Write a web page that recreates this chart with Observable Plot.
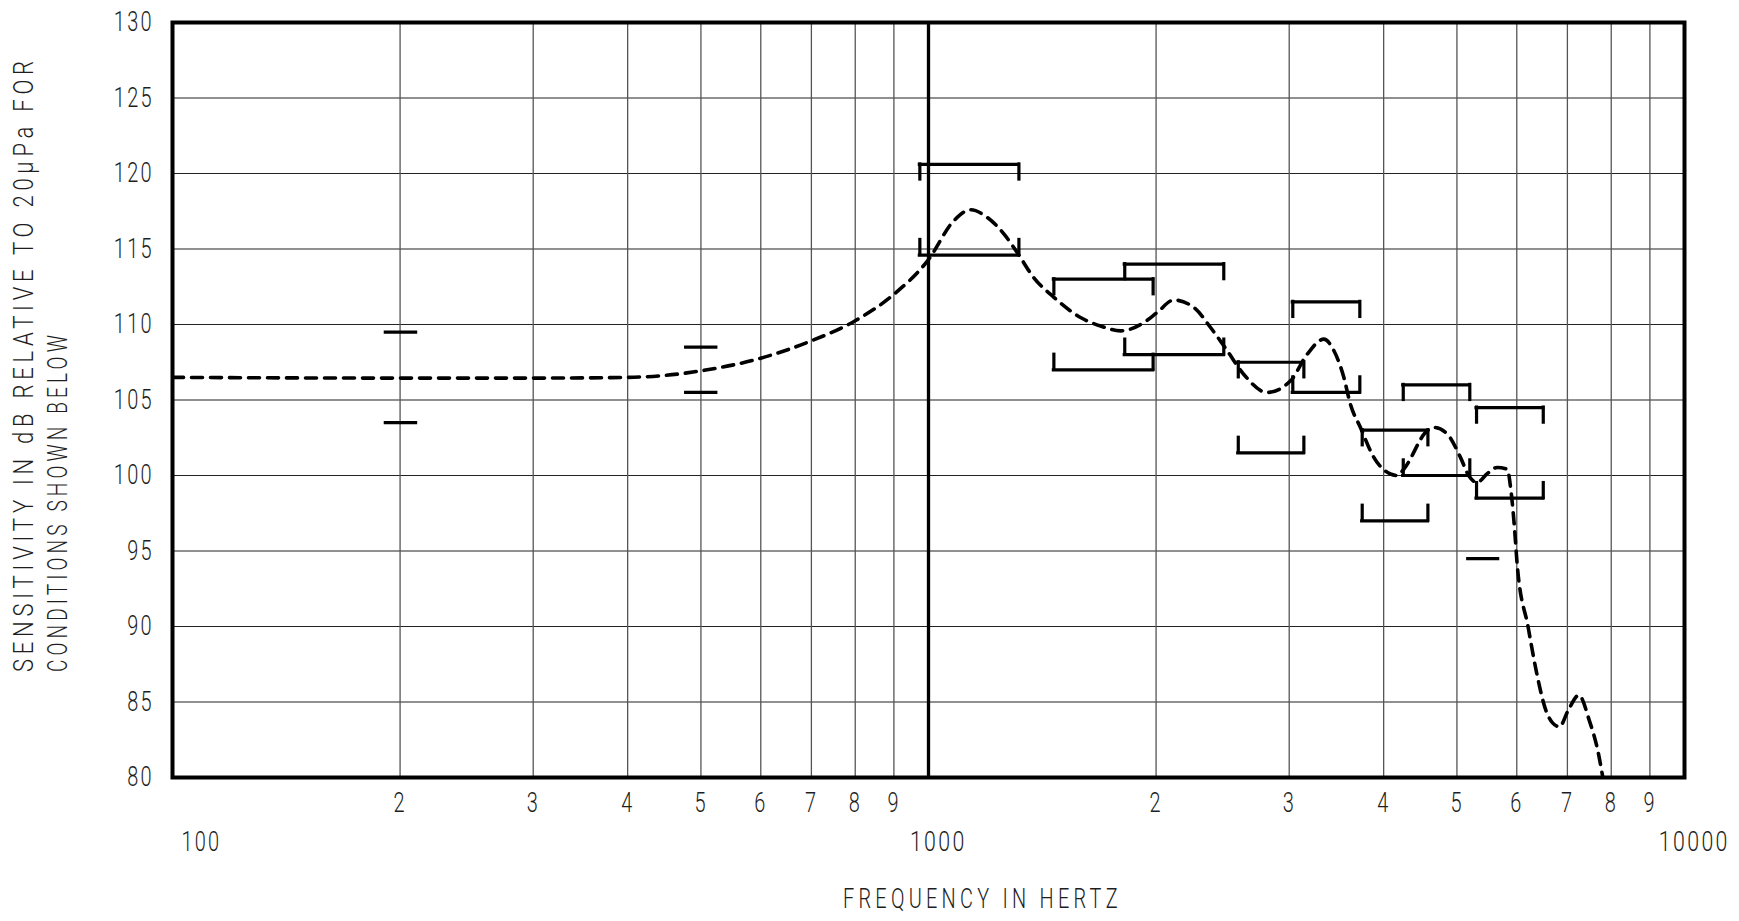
<!DOCTYPE html>
<html><head><meta charset="utf-8">
<script src="https://cdn.jsdelivr.net/npm/d3@7"></script>
<script src="https://cdn.jsdelivr.net/npm/@observablehq/plot@0.6"></script>
<style>body{margin:0;background:#fff;} #chart{width:1739px;height:921px;}</style>
</head><body><div id="chart"></div>
<script>
// ---- data ----
const curveFreq = [100,200,300,400,442,500,600,700,800,900,1000,1080,1137,1196,1258,1310,1378,1465,1589,1689,1795,1927,2007,2111,2244,2361,2484,2612,2805,3012,3170,3333,3438,3543,3614,3727,3882,4084,4170,4250,4568,4662,4857,5054,5184,5318,5478,5651,5830,5888,5948,6010,6209,6370,6561,6696,6834,7010,7248,7486,7680,7798];
const curveDb = [106.5,106.45,106.45,106.5,106.6,106.93,107.77,108.92,110.25,112.0,114.3,116.87,117.6,117.09,116.0,114.77,113.1,111.8,110.46,109.9,109.58,110.13,110.8,111.62,111.13,109.8,108.26,106.7,105.5,106.27,108.04,109.03,108.26,106.5,104.73,103.18,101.2,100.1,100.0,100.4,102.96,103.18,102.74,101.2,99.98,99.54,100.1,100.53,100.42,99.2,97.0,94.0,90.0,87.0,84.4,83.6,83.36,84.4,85.45,83.75,81.77,80.0];

const bandLo    = [974, 1465, 1818, 2569, 3033, 3747, 4246, 5308];
const bandHi    = [1317, 1982, 2458, 3137, 3720, 4577, 5200, 6504];
const bandUpper = [120.6, 113, 114, 107.5, 111.5, 103, 106, 104.5];
const bandLower = [114.6, 107, 108, 101.5, 105.5, 97, 100, 98.5];

const limitFreq  = [200, 500];
const limitLo    = [191.5, 478];
const limitHi    = [210, 524];
const limitUpper = [109.5, 108.5];
const limitLower = [103.5, 105.5];

const extraLo = [5175];
const extraHi = [5669];
const extraDb = [94.5];

const yTicks = [80,85,90,95,100,105,110,115,120,125,130];
const minorTicks = [200,300,400,500,600,700,800,900,2000,3000,4000,5000,6000,7000,8000,9000];
const decadeTicks = [100,1000,10000];
const majorGrid = [1000];

const yTitle = ["SENSITIVITY IN dB RELATIVE TO 20\u03bcPa FOR", "CONDITIONS SHOWN BELOW"];
const xTitle = "FREQUENCY IN HERTZ";

// ---- derived tables ----
const curve = curveFreq.map((f, i) => ({f, db: curveDb[i]}));
const bands = bandLo.map((lo, i) => ({lo, hi: bandHi[i], up: bandUpper[i], low: bandLower[i]}));
const bandEnds = bands.flatMap(b => [{f: b.lo, up: b.up, low: b.low}, {f: b.hi, up: b.up, low: b.low}]);
const limits = limitFreq.map((f, i) => ({lo: limitLo[i], hi: limitHi[i], up: limitUpper[i], low: limitLower[i]}));
const extras = extraLo.map((lo, i) => ({lo, hi: extraHi[i], db: extraDb[i]}));

const TICK = 1; // bracket leg length in dB
const FONT = "Roboto,'DejaVu Sans Condensed',sans-serif";
const INK = "#000";
const TEXT = "#1e1e1e";
const bracket = {stroke: INK, strokeWidth: 3.2, strokeLinecap: "square"};

const plot = Plot.plot({
  width: 1739, height: 921,
  marginLeft: 172, marginRight: 55, marginTop: 22, marginBottom: 144,
  style: {fontFamily: FONT, fontWeight: 300, background: "#fff", color: TEXT, overflow: "visible", letterSpacing: "3px"},
  x: {type: "log", domain: [100, 10000], axis: null},
  y: {domain: [80, 130], axis: null},
  marks: [
    Plot.ruleY(yTicks.slice(1, -1), {stroke: "#222", strokeWidth: 1.2}),
    Plot.ruleX(minorTicks, {stroke: "#555", strokeWidth: 1.3}),
    Plot.ruleX(majorGrid, {stroke: INK, strokeWidth: 3.3}),
    Plot.line(curve, {x: "f", y: "db", curve: "monotone-x", stroke: INK, strokeWidth: 3.6, strokeDasharray: "11,8", clip: true}),
    Plot.ruleY(bands, {x1: "lo", x2: "hi", y: "up", ...bracket}),
    Plot.ruleY(bands, {x1: "lo", x2: "hi", y: "low", ...bracket}),
    Plot.ruleX(bandEnds, {x: "f", y1: "up", y2: d => d.up - TICK, ...bracket}),
    Plot.ruleX(bandEnds, {x: "f", y1: "low", y2: d => d.low + TICK, ...bracket}),
    Plot.ruleY(limits, {x1: "lo", x2: "hi", y: "up", ...bracket}),
    Plot.ruleY(limits, {x1: "lo", x2: "hi", y: "low", ...bracket}),
    Plot.ruleY(extras, {x1: "lo", x2: "hi", y: "db", ...bracket}),
    Plot.frame({stroke: INK, strokeWidth: 4}),
    Plot.axisY({ticks: yTicks, tickSize: 0, tickPadding: 15, fontSize: 27, label: null}),
    Plot.text(minorTicks, {x: d => d, frameAnchor: "bottom", dy: 26, lineAnchor: "middle", text: d => String(d)[0], fontSize: 27}),
    Plot.text(decadeTicks.slice(0, 1), {x: d => d, frameAnchor: "bottom", dy: 65, dx: 7, lineAnchor: "middle", textAnchor: "start", text: d => String(d), fontSize: 27}),
    Plot.text(decadeTicks.slice(1), {x: d => d, frameAnchor: "bottom", dy: 65, dx: 8, lineAnchor: "middle", textAnchor: "middle", text: d => String(d), fontSize: 27})
  ]
});

document.getElementById("chart").appendChild(plot);
const svg = d3.select(plot);
const svgBox = plot.getBoundingClientRect();
const NS = "http://www.w3.org/2000/svg";

// condense the tick labels horizontally (narrow drafting lettering), scaling about each label's anchor
svg.selectAll("text").nodes().forEach(t => {
  const s = t.textContent;
  const natural = t.getComputedTextLength();
  if (!natural) return;
  const target = s.length * (s.length >= 4 ? 14.2 : 13.3);
  const sx = target / natural;
  const r = t.getBoundingClientRect();
  const anchor = getComputedStyle(t).textAnchor;
  const ax = (anchor === "end" ? r.right : anchor === "middle" ? (r.left + r.right) / 2 : r.left) - svgBox.left;
  const g = document.createElementNS(NS, "g");
  t.parentNode.insertBefore(g, t);
  g.appendChild(t);
  g.setAttribute("transform", `translate(${ax},0) scale(${sx},1) translate(${-ax},0)`);
});

// axis titles, condensed in the same way
const titleG = svg.append("g").attr("fill", TEXT).attr("font-family", FONT)
  .attr("font-weight", 300).attr("font-size", 28).attr("text-anchor", "start").attr("letter-spacing", "6px");
function title(str, base, target) {
  const t = titleG.append("text").text(str);
  const sx = target / t.node().getComputedTextLength();
  t.attr("transform", `${base} scale(${sx},1)`);
}
title(yTitle[0], "translate(33,672) rotate(-90)", 616);
title(yTitle[1], "translate(66.5,672) rotate(-90)", 341);
title(xTitle, "translate(843,908)", 279);
</script>
</body></html>
